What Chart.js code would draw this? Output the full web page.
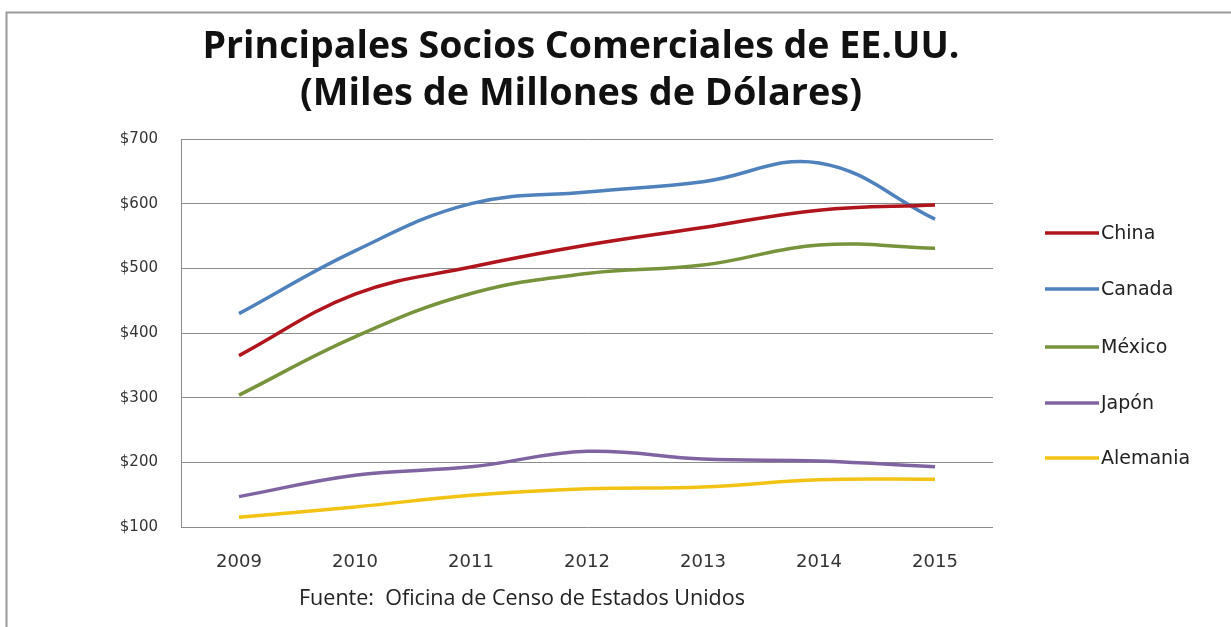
<!DOCTYPE html>
<html>
<head>
<meta charset="utf-8">
<script src="https://cdn.jsdelivr.net/npm/chart.js@4.4.0/dist/chart.umd.min.js"></script>
<style>
  html, body { margin: 0; padding: 0; background: #fff; }
  #wrap { width: 1231px; height: 627px; }
</style>
</head>
<body>
<div id="wrap"><canvas id="tradeChart" width="1231" height="627"></canvas></div>
<script>
const years = ['2009', '2010', '2011', '2012', '2013', '2014', '2015'];

const china    = [365, 460, 502, 536, 563, 590, 598];
const canada   = [430, 527, 600, 618, 634, 663, 576];
const mexico   = [304, 394, 461, 492, 505, 536, 531];
const japon    = [147, 180, 193, 217, 205, 202, 193];
const alemania = [115, 131, 149, 159, 162, 173, 174];

const seriesNames = ['China', 'Canada', 'México', 'Japón', 'Alemania'];
const seriesColors = ['#b0141c', '#4f81bd', '#77933c', '#8064a2', '#f2c314'];

const titleLines = ['Principales Socios Comerciales de EE.UU.', '(Miles de Millones de Dólares)'];
const sourceText = 'Fuente:  Oficina de Censo de Estados Unidos';

// draws text squeezed or stretched to a given width
function fitText(ctx, text, cx, cy, width) {
  const w = ctx.measureText(text).width;
  ctx.save();
  ctx.translate(cx, cy);
  ctx.scale(width / w, 1);
  ctx.textAlign = 'center';
  ctx.textBaseline = 'middle';
  ctx.fillText(text, 0, 0);
  ctx.restore();
}

const decorPlugin = {
  id: 'decor',
  afterDraw(chart) {
    const ctx = chart.ctx;
    ctx.save();

    // outer frame (top and left edges)
    ctx.strokeStyle = '#9a9a9a';
    ctx.lineWidth = 2;
    ctx.beginPath();
    ctx.moveTo(6.5, 627);
    ctx.lineTo(6.5, 12.5);
    ctx.lineTo(1231, 12.5);
    ctx.stroke();

    // title
    ctx.fillStyle = '#111';
    ctx.font = 'bold 37px "Open Sans"';
    fitText(ctx, titleLines[0], 581, 47, 757);
    fitText(ctx, titleLines[1], 581, 94, 562);

    // source note
    ctx.fillStyle = '#222';
    ctx.font = '21px "Open Sans"';
    fitText(ctx, sourceText, 522, 599, 446);

    // legend
    const legendY = [233, 289, 347, 403, 458];
    ctx.font = '19px "DejaVu Sans"';
    ctx.textAlign = 'left';
    ctx.textBaseline = 'middle';
    chart.data.datasets.forEach((ds, i) => {
      ctx.strokeStyle = ds.borderColor;
      ctx.lineWidth = 3.5;
      ctx.beginPath();
      ctx.moveTo(1045, legendY[i]);
      ctx.lineTo(1099, legendY[i]);
      ctx.stroke();
      ctx.fillStyle = '#222';
      ctx.fillText(ds.label, 1101, legendY[i] + 1);
    });

    ctx.restore();
  }
};

const allSeries = [china, canada, mexico, japon, alemania];

new Chart(document.getElementById('tradeChart'), {
  type: 'line',
  data: {
    labels: years,
    datasets: allSeries.map((values, i) => ({
      label: seriesNames[i],
      data: values,
      borderColor: seriesColors[i],
      backgroundColor: seriesColors[i],
      borderWidth: 3.5,
      tension: 0.4,
      pointRadius: 0,
      fill: false
    }))
  },
  options: {
    responsive: false,
    animation: false,
    layout: {
      padding: { left: 121, right: 238, top: 139, bottom: 60 }
    },
    scales: {
      x: {
        offset: true,
        grid: { display: false },
        border: { display: false },
        ticks: {
          color: '#333',
          font: { family: 'DejaVu Sans', size: 18 },
          padding: 17,
          maxRotation: 0
        },
        afterFit: s => { s.height = 40; }
      },
      y: {
        min: 100,
        max: 700,
        grid: { color: '#8c8c8c', lineWidth: 1, drawTicks: false },
        border: { display: true, color: '#8c8c8c', width: 1 },
        ticks: {
          stepSize: 100,
          color: '#333',
          font: { family: 'DejaVu Sans', size: 15 },
          padding: 23,
          callback: v => '$' + v
        },
        afterFit: s => { s.width = 60; }
      }
    },
    plugins: {
      legend: { display: false },
      tooltip: { enabled: false },
      title: { display: false }
    }
  },
  plugins: [decorPlugin]
});
</script>
</body>
</html>
